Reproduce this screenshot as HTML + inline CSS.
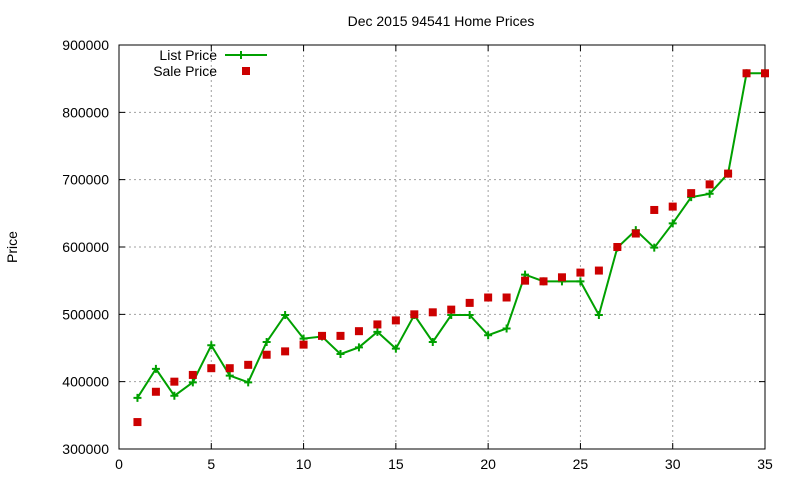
<!DOCTYPE html>
<html><head><meta charset="utf-8"><style>
body{margin:0;background:#fff;}
svg{display:block;font-family:"Liberation Sans",sans-serif;}
</style></head><body>
<svg id="chart" width="800" height="480" viewBox="0 0 800 480">
<rect width="800" height="480" fill="#fff"/>
<text x="441" y="26" font-size="14" text-anchor="middle">Dec 2015 94541 Home Prices</text>
<text x="17" y="247" font-size="14" text-anchor="middle" transform="rotate(-90 17 247)">Price</text>
<g id="grid"></g>
<g id="axes"></g>
<g id="series"></g>
<g>
<text x="217" y="60" font-size="14" text-anchor="end">List Price</text>
<line x1="225" y1="55" x2="267" y2="55" stroke="#00a000" stroke-width="2"/>
<path d="M241 51v8M237 55h8" stroke="#00a000" stroke-width="2"/>
<text x="217" y="76" font-size="14" text-anchor="end">Sale Price</text>
<rect x="242" y="67" width="8" height="8" fill="#cc0000"/>
</g>
</svg>
<script>
const xs = [1,2,3,4,5,6,7,8,9,10,11,12,13,14,15,16,17,18,19,20,21,22,23,24,25,26,27,28,29,30,31,32,33,34,35];
const listPrice = [376000,419000,379000,399000,454000,409000,399000,459000,499000,464000,467000,441000,451000,474000,449000,499000,459000,499000,499000,469000,479000,559000,549000,549000,549000,499000,599000,625000,599000,635000,674000,679000,709000,858000,858000];
const salePrice = [340000,385000,400000,410000,420000,420000,425000,440000,445000,455000,468000,468000,475000,485000,491000,500000,503000,507000,517000,525000,525000,550000,549000,555000,562000,565000,600000,620000,655000,660000,680000,693000,709000,858000,858000];
const xTicks = [0,5,10,15,20,25,30,35];
const yTicks = [300000,400000,500000,600000,700000,800000,900000];
const L=119,R=765,T=45,B=449;
const X=v=>L+(v-0)/35*(R-L);
const Y=v=>B-(v-300000)/600000*(B-T);
const NS='http://www.w3.org/2000/svg';
function mk(tag,parent,attrs){const e=document.createElementNS(NS,tag);for(const k in attrs)e.setAttribute(k,attrs[k]);parent.appendChild(e);return e;}
const grid=document.getElementById('grid'),axes=document.getElementById('axes'),series=document.getElementById('series');
xTicks.forEach(t=>{
  if(t>0&&t<35){const g=mk('line',grid,{x1:X(t),x2:X(t),y1:T,y2:B,stroke:'#a0a0a0','stroke-dasharray':'2,3'});
  
  }
  const tk=mk('path',axes,{d:`M${X(t)} ${B}v-6M${X(t)} ${T}v6`,stroke:'#000'});
  
  
  const tx=mk('text',axes,{x:X(t),y:B+20,'font-size':14,'text-anchor':'middle'});tx.textContent=t;
  
  
});
yTicks.forEach(t=>{
  if(t>300000&&t<900000){const g=mk('line',grid,{x1:L,x2:R,y1:Y(t),y2:Y(t),stroke:'#a0a0a0','stroke-dasharray':'2,3'});
  
  }
  const tk=mk('path',axes,{d:`M${L} ${Y(t)}h6M${R} ${Y(t)}h-6`,stroke:'#000'});
  
  
  const tx=mk('text',axes,{x:L-10,y:Y(t)+5,'font-size':14,'text-anchor':'end'});tx.textContent=t;
  
  
});
const frame=mk('rect',axes,{x:L,y:T,width:R-L,height:B-T,fill:'none',stroke:'#000'});


const line=mk('polyline',series,{points:xs.map((x,i)=>X(x)+','+Y(listPrice[i])).join(' '),fill:'none',stroke:'#00a000','stroke-width':2});


xs.forEach((x,i)=>{
  const p=mk('path',series,{d:`M${X(x)} ${Y(listPrice[i])-4}v8M${X(x)-4} ${Y(listPrice[i])}h8`,stroke:'#00a000','stroke-width':2});
  
  
});
xs.forEach((x,i)=>{
  const r=mk('rect',series,{x:X(x)-4,y:Y(salePrice[i])-4,width:8,height:8,fill:'#cc0000'});
  
  
});
</script>
</body></html>
